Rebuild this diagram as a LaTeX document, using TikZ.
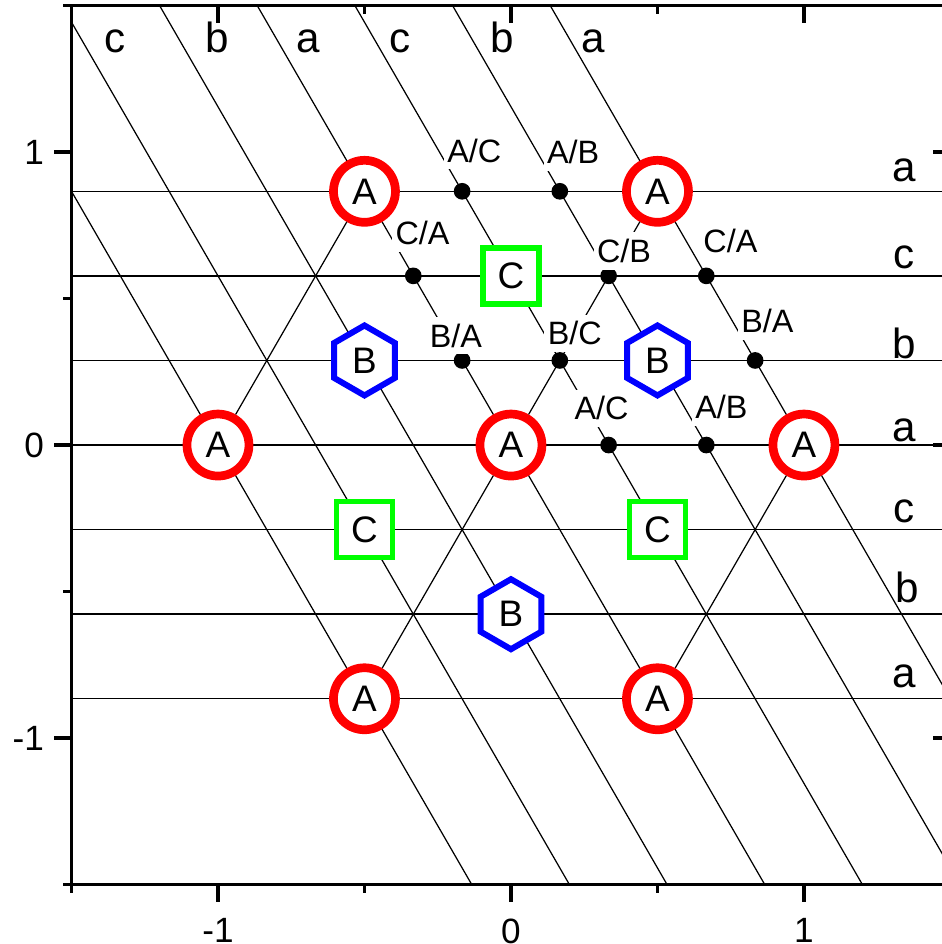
\documentclass[tikz,border=0pt]{standalone}
\usepackage{fontspec}
\setmainfont{Liberation Sans}
\usepackage{tikz}
\usetikzlibrary{shapes.geometric}
\definecolor{latred}{RGB}{255,0,0}
\definecolor{latblue}{RGB}{0,0,255}
\definecolor{latgreen}{RGB}{0,255,0}

\begin{document}
\begin{tikzpicture}[
  x=2.93cm, y=2.93cm,
  latline/.style={line width=0.35pt,black},
  axisbox/.style={line width=0.95pt,black},
  siteA/.style={circle,draw=latred,fill=white,line width=0.087cm,
    minimum size=0.62cm,inner sep=0pt,font=\fontsize{10.5}{12}\selectfont},
  siteB/.style={regular polygon,regular polygon sides=6,shape border rotate=30,
    draw=latblue,fill=white,line width=0.06cm,minimum size=0.70cm,
    inner sep=0pt,font=\fontsize{10.5}{12}\selectfont},
  siteC/.style={rectangle,draw=latgreen,fill=white,line width=0.055cm,
    minimum size=0.56cm,inner sep=0pt,font=\fontsize{10.5}{12}\selectfont},
  junct/.style={circle,fill=black,minimum size=0.167cm,inner sep=0pt},
  tag/.style={fill=white,inner xsep=1pt,inner ysep=2pt,
    font=\fontsize{9.2}{11}\selectfont},
  stacklbl/.style={anchor=base,inner sep=0pt,font=\fontsize{12}{14}\selectfont},
  axlbl/.style={inner sep=0pt,font=\fontsize{10}{12}\selectfont}
]
  \useasboundingbox (-1.744,-1.703) rectangle (1.471,1.519);

  \begin{scope}
    \clip (-1.5,-1.5) rectangle (1.5,1.5);
    \foreach \y in {-0.866,-0.577,-0.289,0,0.289,0.577,0.866}
      \draw[latline] (-1.5,\y) -- (1.5,\y);
    \foreach \k in {-3,...,3}
      \draw[latline] ({\k/3-1},1.732) -- ({\k/3+1},-1.732);
  \end{scope}

  \node[siteA] (aW) at (-1,0) {A};
  \node[siteA] (aO) at (0,0) {A};
  \node[siteA] (aE) at (1,0) {A};
  \node[siteA] (aNW) at (-0.5,0.866) {A};
  \node[siteA] (aNE) at (0.5,0.866) {A};
  \node[siteA] (aSW) at (-0.5,-0.866) {A};
  \node[siteA] (aSE) at (0.5,-0.866) {A};
  \node[siteB] (bW) at (-0.5,0.2887) {B};
  \node[siteB] (bE) at (0.5,0.2887) {B};
  \node[siteB] (bS) at (0,-0.5774) {B};
  \node[siteC] (cN) at (0,0.5774) {C};
  \node[siteC] (cW) at (-0.5,-0.2887) {C};
  \node[siteC] (cE) at (0.5,-0.2887) {C};

  \draw[latline] (aW) -- (aNW);
  \draw[latline] (aSW) -- (aO);
  \draw[latline] (aO) -- (aNE);
  \draw[latline] (aSE) -- (aE);

  \node[junct] (jAC1) at (-0.1667,0.866) {};
  \node[junct] (jAB1) at (0.1667,0.866) {};
  \node[junct] (jCA1) at (-0.3333,0.5774) {};
  \node[junct] (jCB) at (0.3333,0.5774) {};
  \node[junct] (jCA2) at (0.6667,0.5774) {};
  \node[junct] (jBA1) at (-0.1667,0.2887) {};
  \node[junct] (jBC) at (0.1667,0.2887) {};
  \node[junct] (jBA2) at (0.8333,0.2887) {};
  \node[junct] (jAC2) at (0.3333,0) {};
  \node[junct] (jAB2) at (0.6667,0) {};

  \node[tag] (tAC1) at (-0.125,1.005) {A/C};
  \node[tag] (tAB1) at (0.212,1.000) {A/B};
  \node[tag] (tCA1) at (-0.302,0.724) {C/A};
  \node[tag] (tCB) at (0.386,0.662) {C/B};
  \node[tag] (tCA2) at (0.749,0.695) {C/A};
  \node[tag] (tBA1) at (-0.188,0.374) {B/A};
  \node[tag] (tBC) at (0.218,0.381) {B/C};
  \node[tag] (tBA2) at (0.875,0.423) {B/A};
  \node[tag] (tAC2) at (0.309,0.125) {A/C};
  \node[tag] (tAB2) at (0.718,0.131) {A/B};

  \node[stacklbl] (hA1) at (1.341,0.898) {a};
  \node[stacklbl] (hC1) at (1.341,0.604) {c};
  \node[stacklbl] (hB1) at (1.341,0.297) {b};
  \node[stacklbl] (hA2) at (1.341,0.011) {a};
  \node[stacklbl] (hC2) at (1.341,-0.263) {c};
  \node[stacklbl] (hB2) at (1.352,-0.539) {b};
  \node[stacklbl] (hA3) at (1.341,-0.829) {a};

  \node[stacklbl] (sC1) at (-1.350,1.341) {c};
  \node[stacklbl] (sB1) at (-1.003,1.341) {b};
  \node[stacklbl] (sA1) at (-0.693,1.341) {a};
  \node[stacklbl] (sC2) at (-0.379,1.341) {c};
  \node[stacklbl] (sB2) at (-0.031,1.341) {b};
  \node[stacklbl] (sA2) at (0.280,1.341) {a};

  \draw[axisbox] (-1.5,-1.5) rectangle (1.5,1.5);
  \foreach \t in {-1,0,1} {
    \draw[axisbox] (-1.5,\t) -- ++(-0.17cm,0);
    \draw[axisbox] (1.5,\t) -- ++(-0.17cm,0);
    \draw[axisbox] (\t,-1.5) -- ++(0,-0.17cm);
    \draw[axisbox] (\t,1.5) -- ++(0,-0.17cm);
  }
  \foreach \t in {-1.5,-0.5,0.5,1.5} {
    \draw[axisbox] (-1.5,\t) -- ++(-0.085cm,0);
    \draw[axisbox] (1.5,\t) -- ++(-0.085cm,0);
    \draw[axisbox] (\t,-1.5) -- ++(0,-0.085cm);
    \draw[axisbox] (\t,1.5) -- ++(0,-0.085cm);
  }
  \foreach \t/\n in {-1/m,0/z,1/p} {
    \node[axlbl,anchor=east] (ytick\n) at (-1.592,\t) {\t};
    \node[axlbl,anchor=north] (xtick\n) at (\t,-1.614) {\t};
  }
\end{tikzpicture}
\end{document}
